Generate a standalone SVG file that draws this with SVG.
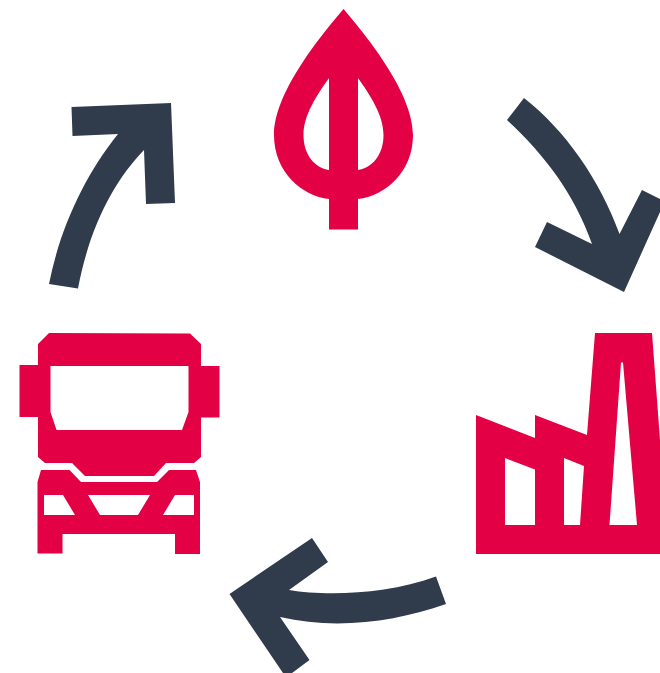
<svg xmlns="http://www.w3.org/2000/svg" width="660" height="673" viewBox="0 0 660 673">
<style>
.icon{fill:#e40045;fill-rule:evenodd}
.arrow{fill:#303c4b}
</style>
<rect width="660" height="673" fill="#fff"/>
<g id="leaf"><path class="icon" d="M343.500 9C368 38 413 93 413 135C413 172 385 196 358 199V229.500H329V199C302 196 274 172 274 135C274 93 319 38 343.500 9ZM358 78V170C372 168 383.500 155 383.500 135C383.500 115 370 95 358 78ZM329 78C317 95 303.500 115 303.500 135C303.500 155 315 168 329 170Z"/></g>
<g id="factory"><path class="icon" d="M476 415L535 438V415L587 435L595 333H652L660 440V554H476ZM505 458V525H535V469.500ZM564 458V525H580L584 466ZM621 362.500L609.500 525H637L623 362.500Z"/></g>
<g id="truck"><path class="icon" d="M49 333L190 333.500L201 344V366H219.500V417.500H201V457L194 463H166L154 476H85L72 463H45L38 457V417H19.500V365H38V344ZM50.500 366V412L56.500 430H182L188.500 412V366Z"/><path class="icon" d="M41 470H69.500L81 482H157L169 470H196L200 482V554H175V534H62.500V553.500H37.500V482ZM44 495V515H75L63 495ZM88 495L100 515H138L150 495ZM175 495L163 515H194V495Z"/></g>
<g id="connectors">
<path class="arrow" d="M71.500 107L171 103L175 203L146 204L144 150C115 180 90 225 78 288.500L49 284C60 228 85 175 118 134L72.500 136Z"/>
<path class="arrow" d="M507 120L524 98C565 130 600 180 619.500 234L642 190L660 199V212L624 292L535 247L547 222L592 244C575 195 545 155 507 120Z"/>
<path class="arrow" d="M229.500 594L312 538L328 562L289 590C325 596 385 595 436 576.500L446 604C395 622 335 630 280 617L309.500 660L292 673H283Z"/>
</g>
</svg>
